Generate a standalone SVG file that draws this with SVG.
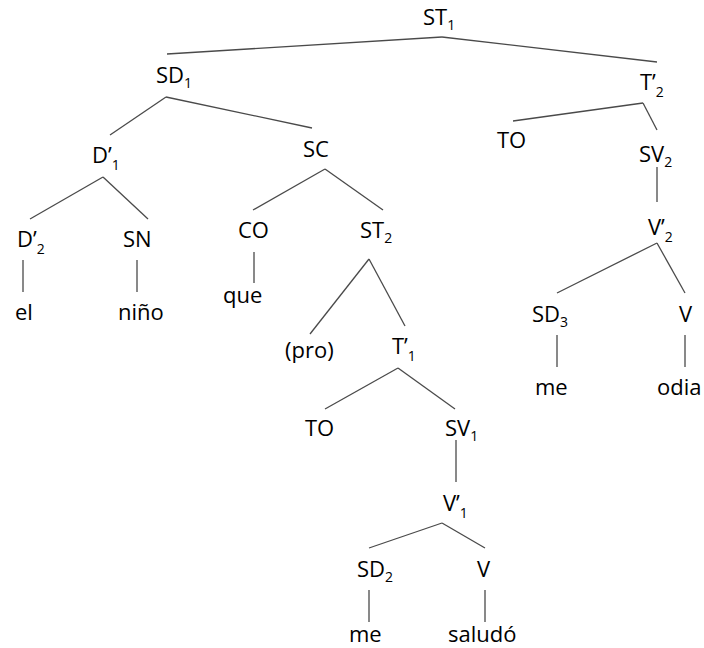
<svg xmlns="http://www.w3.org/2000/svg" width="704" height="648" viewBox="0 0 704 648">
<style>
  text { font-family: "Open Sans", Lato, "Liberation Sans", sans-serif; font-size: 22px; fill: #000; }
  .s { font-size: 14px; }
  #edges line { stroke: #4a4a4a; stroke-width: 1.3; }
</style>
<rect width="704" height="648" fill="#fff"/>
<g id="edges">
  <line x1="442" y1="37" x2="167" y2="54"/>
  <line x1="442" y1="37" x2="657" y2="62"/>
  <line x1="166" y1="97" x2="110" y2="135"/>
  <line x1="166" y1="97" x2="312" y2="128"/>
  <line x1="103" y1="177" x2="30" y2="219"/>
  <line x1="103" y1="177" x2="148" y2="219"/>
  <line x1="325" y1="169" x2="253" y2="210"/>
  <line x1="325" y1="169" x2="383" y2="210"/>
  <line x1="23" y1="260" x2="23" y2="292"/>
  <line x1="137" y1="260" x2="137" y2="292"/>
  <line x1="254" y1="252" x2="254" y2="283"/>
  <line x1="369" y1="259" x2="310" y2="334"/>
  <line x1="369" y1="259" x2="405" y2="326"/>
  <line x1="398" y1="368" x2="325" y2="409"/>
  <line x1="398" y1="368" x2="455" y2="409"/>
  <line x1="456" y1="440" x2="456" y2="482"/>
  <line x1="442" y1="523" x2="369" y2="548"/>
  <line x1="442" y1="523" x2="485" y2="548"/>
  <line x1="369" y1="590" x2="369" y2="622"/>
  <line x1="485" y1="590" x2="485" y2="622"/>
  <line x1="643" y1="103" x2="513" y2="121"/>
  <line x1="643" y1="103" x2="657" y2="130"/>
  <line x1="657" y1="167" x2="657" y2="202"/>
  <line x1="657" y1="243" x2="557" y2="293"/>
  <line x1="657" y1="243" x2="685" y2="293"/>
  <line x1="557" y1="335" x2="557" y2="367"/>
  <line x1="685" y1="335" x2="685" y2="367"/>
</g>
<g id="ST1"><text x="423" y="25">ST<tspan class="s" dy="5">1</tspan></text></g>
<g id="SD1"><text x="156" y="83">SD<tspan class="s" dy="5">1</tspan></text></g>
<g id="T2bar"><text x="640" y="90">T’<tspan class="s" dy="7">2</tspan></text></g>
<g id="D1bar"><text x="92" y="163">D’<tspan class="s" dy="7">1</tspan></text></g>
<g id="SC"><text x="303" y="157">SC</text></g>
<g id="TO2"><text x="497" y="148">TO</text></g>
<g id="SV2"><text x="639" y="162">SV<tspan class="s" dy="5">2</tspan></text></g>
<g id="D2bar"><text x="17" y="247">D’<tspan class="s" dy="7">2</tspan></text></g>
<g id="SN"><text x="123" y="247">SN</text></g>
<g id="CO"><text x="238" y="238">CO</text></g>
<g id="ST2"><text x="360" y="238">ST<tspan class="s" dy="5">2</tspan></text></g>
<g id="V2bar"><text x="648" y="235">V’<tspan class="s" dy="7">2</tspan></text></g>
<g id="el"><text x="15" y="320">el</text></g>
<g id="nino"><text x="118" y="320">niño</text></g>
<g id="que"><text x="223" y="303">que</text></g>
<g id="SD3"><text x="532" y="322">SD<tspan class="s" dy="5">3</tspan></text></g>
<g id="V2"><text x="679" y="322">V</text></g>
<g id="pro"><text x="285" y="358">(pro)</text></g>
<g id="T1bar"><text x="392" y="354">T’<tspan class="s" dy="7">1</tspan></text></g>
<g id="me2"><text x="535" y="395">me</text></g>
<g id="odia"><text x="657" y="395">odia</text></g>
<g id="TO1"><text x="305" y="436">TO</text></g>
<g id="SV1"><text x="445" y="436">SV<tspan class="s" dy="5">1</tspan></text></g>
<g id="V1bar"><text x="443" y="511">V’<tspan class="s" dy="7">1</tspan></text></g>
<g id="SD2"><text x="357" y="577">SD<tspan class="s" dy="5">2</tspan></text></g>
<g id="V1"><text x="477" y="577">V</text></g>
<g id="me1"><text x="349" y="642">me</text></g>
<g id="saludo"><text x="448" y="642">saludó</text></g>
</svg>
